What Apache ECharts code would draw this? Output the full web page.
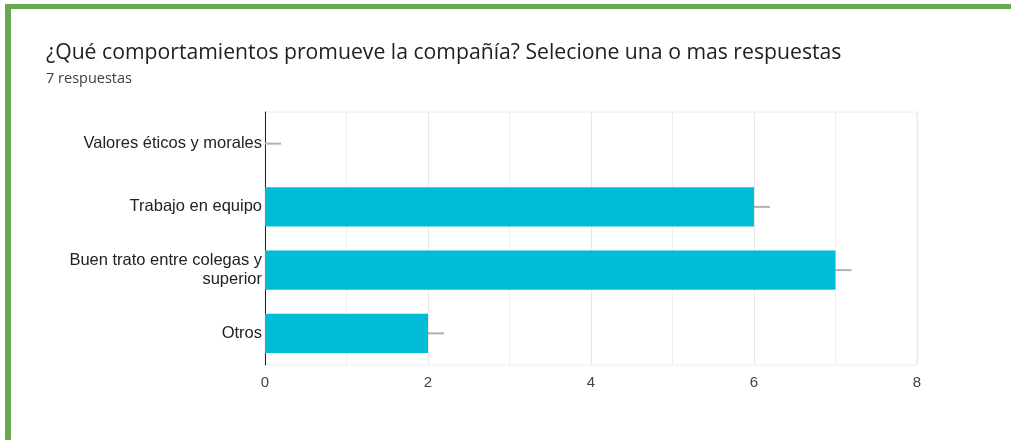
<!DOCTYPE html>
<html lang="es">
<head>
    <meta charset="utf-8"/>
    <title>Comportamientos</title>
    <style>
        html, body { margin: 0; padding: 0; background: #fff; }
        #echarts { width: 1011px; height: 440px; }
    </style>
</head>
<body>
<div id="echarts"></div>
<script src="https://cdn.jsdelivr.net/npm/echarts@6/dist/echarts.min.js"></script>
<script type="text/javascript">
    // datos
    var categorias = ['Valores éticos y morales', 'Trabajo en equipo', 'Buen trato entre colegas y\nsuperior', 'Otros'];
    var valores = [0, 6, 7, 2];
    var ejeMin = 0;
    var ejeMax = 8;

    // pequeñas lineas grises al final de cada barra
    var colas = [];
    for (var i = 0; i < valores.length; i++) {
        colas.push([valores[i], i]);
    }

    var myChart = echarts.init(document.getElementById('echarts'));
    var option = {
        backgroundColor: '#fff',
        animation: false,
        //borde verde
        graphic: [
            { type: 'rect', shape: { x: 5, y: 4, width: 1006, height: 5 }, style: { fill: '#6aa84f' } },
            { type: 'rect', shape: { x: 5, y: 4, width: 6, height: 436 }, style: { fill: '#6aa84f' } }
        ],
        //titulo
        title: {
            text: '¿Qué comportamientos promueve la compañía? Selecione una o mas respuestas',
            subtext: '7 respuestas',
            left: 46,
            top: 42,
            padding: 0,
            itemGap: 8,
            textStyle: { fontFamily: 'Open Sans', fontSize: 21.2, fontWeight: 'normal', color: '#202124' },
            subtextStyle: { fontFamily: 'Open Sans', fontSize: 14.5, color: '#3c4043' }
        },
        grid: { left: 265, right: 94, top: 112, bottom: 75, show: true, borderColor: '#ececec', borderWidth: 1 },
        xAxis: {
            type: 'value',
            min: ejeMin,
            max: ejeMax,
            interval: 2,
            axisLine: { show: false },
            axisTick: { show: false },
            axisLabel: { fontFamily: 'Liberation Sans', fontSize: 15, color: '#444', margin: 10 },
            splitLine: { show: true, lineStyle: { color: '#e8e8e8', width: 1 } },
            minorTick: { show: false, splitNumber: 2 },
            minorSplitLine: { show: true, lineStyle: { color: '#f0f0f0', width: 1 } }
        },
        yAxis: {
            type: 'category',
            data: categorias,
            inverse: true,
            axisLine: { show: true, lineStyle: { color: '#222', width: 1 } },
            axisTick: { show: false },
            axisLabel: { fontFamily: 'Liberation Sans', fontSize: 16.5, color: '#222', margin: 3, lineHeight: 19, align: 'right', padding: [6, 0, 0, 0] },
            splitLine: { show: false }
        },
        series: [{
            type: 'bar',
            data: valores,
            barCategoryGap: '38%',
            itemStyle: { color: '#00bcd4' },
            z: 2
        }, {
            type: 'custom',
            data: colas,
            encode: { x: 0, y: 1 },
            renderItem: function (params, api) {
                var p = api.coord([api.value(0), api.value(1)]);
                return {
                    type: 'line',
                    shape: { x1: p[0], y1: p[1], x2: p[0] + 16, y2: p[1] },
                    style: { stroke: '#b0b0b0', lineWidth: 2 }
                };
            },
            z: 1
        }]
    };
    myChart.setOption(option);
</script>
</body>
</html>
